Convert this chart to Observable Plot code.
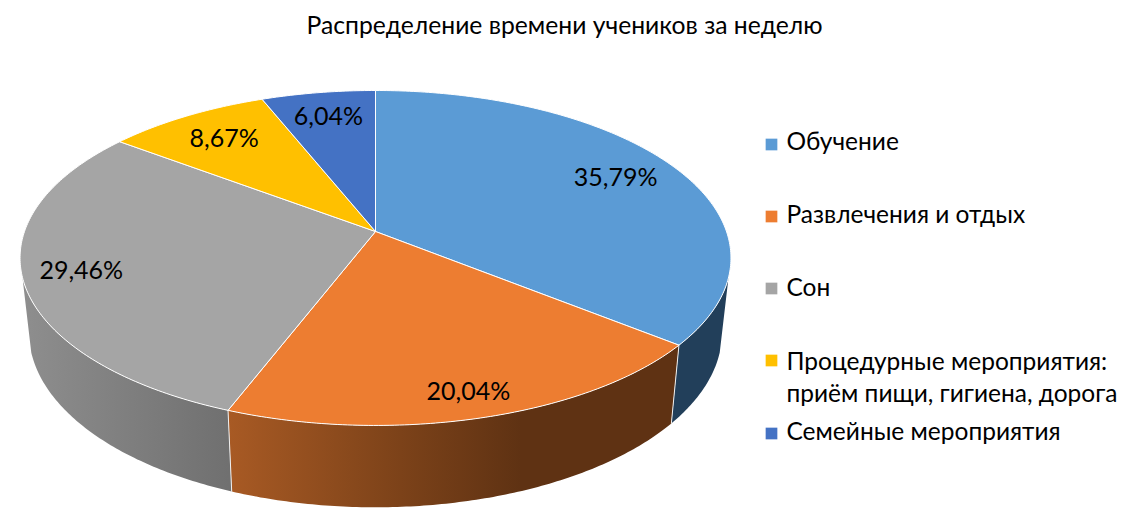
<!DOCTYPE html>
<html lang="ru">
<head>
<meta charset="utf-8">
<script src="https://cdn.jsdelivr.net/npm/d3@7"></script>
<script src="https://cdn.jsdelivr.net/npm/@observablehq/plot@0.6"></script>
<style>
html,body{margin:0;padding:0;background:#fff;}
svg{display:block;}
</style>
</head>
<body>
<div id="chart"></div>
<script>
const title = "Распределение времени учеников за неделю";
const categories = ["Обучение", "Развлечения и отдых", "Сон", "Процедурные мероприятия:\nприём пищи, гигиена, дорога", "Семейные мероприятия"];
const shares = [35.79, 20.04, 29.46, 8.67, 6.04];
const shareLabels = ["35,79%", "20,04%", "29,46%", "8,67%", "6,04%"];
const topColors = ["#5b9bd5", "#ed7d31", "#a5a5a5", "#ffc000", "#4472c4"];

// Layout only
const labelRadius = [0.8, 0.88, 0.84, 0.78, 0.8];
const legendMarkY = [144, 216, 288, 360, 433];
const legendTextY = [139.5, 212.5, 285.5, 375, 429.5];
const FONT = "Lato, Carlito, 'Open Sans', sans-serif";

// Tilted-disc perspective
const cx = 375, cy = 231, R = 351, A = 163.3, k = 0.158, shrink = 0.975, depth = 73;
const rad = d => d / 100 * 2 * Math.PI;
function topPoint(t, r = 1) {
  const u = r * Math.sin(t), v = -r * Math.cos(t), w = 1 - k * v;
  return {x: cx + R * u / w, y: cy + A * v / w};
}
function bottomPoint(t) {
  const p = topPoint(t), w = 1 + k * Math.cos(t);
  return {x: cx + shrink * (p.x - cx), y: cy + shrink * (p.y - cy) + depth / w};
}

let acc = 0;
const slices = shares.map((s, i) => {
  const a0 = rad(acc), a1 = rad(acc + s);
  acc += s;
  return {i, a0, a1, mid: (a0 + a1) / 2};
});

// Top faces
const topFaces = slices.flatMap(s => {
  const n = Math.max(4, Math.ceil((s.a1 - s.a0) * 80));
  const pts = [{x: cx, y: cy}];
  for (let j = 0; j <= n; ++j) pts.push(topPoint(s.a0 + (s.a1 - s.a0) * j / n));
  pts.push({x: cx, y: cy});
  return pts.map(p => ({...p, id: s.i, fill: topColors[s.i]}));
});

// Side wall outlines, one per slice that faces the viewer
const wallVisible = [rad(29.35), rad(70.65)];
const wallFaces = slices.slice(0, 3).map(s => {
  const a0 = Math.max(s.a0, wallVisible[0]), a1 = Math.min(s.a1, wallVisible[1]);
  const n = Math.ceil((a1 - a0) * 90);
  const ts = d3.range(n + 1).map(j => a0 + (a1 - a0) * j / n);
  return [...ts.map(t => topPoint(t)), ...ts.slice().reverse().map(t => bottomPoint(t))];
});
const wallGradients = [
  [[0, "#223f5a"], [1, "#223f5a"]],
  [[228, "#a85a24"], [400, "#7c4219"], [520, "#5f3213"], [700, "#5f3213"]],
  [[22, "#8e8e8e"], [228, "#707070"]]
];

// Horizontal gradients in picture space for the wall shading
function gradientDefs(index, scales) {
  const svgNS = "http://www.w3.org/2000/svg";
  const defs = document.createElementNS(svgNS, "defs");
  wallGradients.forEach((stops, i) => {
    const g = document.createElementNS(svgNS, "linearGradient");
    g.setAttribute("id", `wall${i}`);
    g.setAttribute("gradientUnits", "userSpaceOnUse");
    const lo = stops[0][0], hi = stops[stops.length - 1][0];
    g.setAttribute("x1", scales.x(lo));
    g.setAttribute("x2", scales.x(hi));
    g.setAttribute("y1", 0);
    g.setAttribute("y2", 0);
    stops.forEach(([at, c]) => {
      const st = document.createElementNS(svgNS, "stop");
      st.setAttribute("offset", (at - lo) / (hi - lo));
      st.setAttribute("stop-color", c);
      g.append(st);
    });
    defs.append(g);
  });
  return defs;
}

// White seams on the wall
const seams = [slices[0].a1, slices[1].a1].flatMap((t, i) =>
  [topPoint(t), bottomPoint(t)].map(p => ({...p, id: i})));

const labels = slices.map(s => {
  const p = topPoint(s.mid, labelRadius[s.i]);
  return {...p, text: shareLabels[s.i]};
});

const legendMarks = categories.map((c, i) => ({x: 771, y: legendMarkY[i], fill: topColors[i]}));
const legendTexts = categories.map((c, i) => ({x: 786, y: legendTextY[i], text: c}));

const chart = Plot.plot({
  width: 1130,
  height: 518,
  margin: 0,
  style: {fontFamily: FONT, background: "#fff"},
  x: {domain: [0, 1130], range: [0, 1130], axis: null},
  y: {domain: [0, 518], range: [0, 518], axis: null},
  color: {type: "identity"},
  marks: [
    gradientDefs,
    ...wallFaces.map((pts, i) => Plot.line(pts, {x: "x", y: "y", fill: `url(#wall${i})`, stroke: "none"})),
    Plot.line(seams, {x: "x", y: "y", z: "id", stroke: "#f0f0f0", strokeWidth: 1}),
    Plot.line(topFaces, {x: "x", y: "y", z: "id", fill: "fill", stroke: "#fff", strokeWidth: 1}),
    Plot.text(labels, {x: "x", y: "y", text: "text", fontSize: 25, fill: "#000", fontFamily: FONT}),
    Plot.dot(legendMarks, {x: "x", y: "y", fill: "fill", symbol: "square", r: 6.6}),
    Plot.text(legendTexts, {x: "x", y: "y", text: "text", textAnchor: "start", fontSize: 24.5, lineHeight: 1.3, fill: "#000", fontFamily: FONT}),
    Plot.text([title], {x: () => 564, y: () => 26, text: d => d, fontSize: 24.7, fill: "#000", fontFamily: FONT})
  ]
});
document.getElementById("chart").append(chart);
</script>
</body>
</html>
